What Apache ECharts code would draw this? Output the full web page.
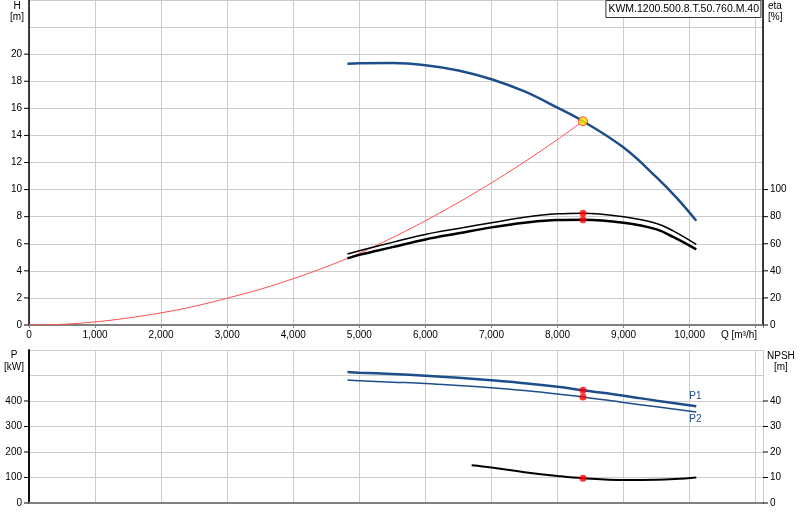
<!DOCTYPE html>
<html>
<head>
<meta charset="utf-8">
<script src="https://cdn.jsdelivr.net/npm/echarts@6/dist/echarts.min.js"></script>
<style>
  html, body { margin: 0; padding: 0; background: #fff; }
  #chart { width: 800px; height: 520px; }
</style>
</head>
<body>
<div id="chart"></div>
<script>
var FONT = 'Liberation Sans, Arial, sans-serif';

// pump curve H(Q)
var flowH = [4820, 5000, 5500, 6000, 6500, 7000, 7500, 8000, 8385, 9000, 9500, 9800, 10100];
var head = [19.3, 19.33, 19.35, 19.19, 18.8, 18.15, 17.25, 16.05, 15.05, 13.1, 10.9, 9.4, 7.7];

// system curve
var flowSys = [0, 500, 1000, 1500, 2000, 2500, 3000, 3500, 4000, 4500, 5000, 5500, 6000, 6500, 7000, 7500, 8000, 8385];
var headSys = [0, 0.05, 0.23, 0.52, 0.9, 1.38, 1.98, 2.64, 3.42, 4.3, 5.3, 6.45, 7.7, 9.05, 10.5, 12.05, 13.7, 15.05];

// efficiency
var flowEta = [4820, 5000, 5500, 6000, 6500, 7000, 7500, 8000, 8385, 9000, 9500, 9750, 10100];
var etaUpper = [52.4, 54.8, 61.0, 66.9, 71.3, 75.5, 79.5, 82.1, 82.6, 79.9, 75.0, 69.5, 59.5];
var etaLower = [49.2, 51.8, 57.5, 63.2, 67.7, 72.1, 75.5, 77.5, 77.7, 75.5, 70.6, 65.0, 55.8];

// power
var flowP = [4820, 5000, 5500, 6000, 6500, 7000, 7500, 8000, 8385, 9000, 9500, 10100];
var powerP1 = [514, 511, 506, 499, 491, 481, 470, 456, 442, 421, 401, 379];
var powerP2 = [482, 479, 474, 469, 461, 452, 441, 427, 416, 394, 377, 357];

// NPSH
var flowN = [6700, 7000, 7500, 8000, 8385, 9000, 9500, 10100];
var npsh = [14.8, 13.9, 12.1, 10.6, 9.7, 9.0, 9.1, 10.0];

// duty point
var dutyQ = 8385;
var dutyH = 15.05;
var dutyEta = [82.5, 77.7];
var dutyP = [442, 416];
var dutyNpsh = 9.7;

var pumpName = 'KWM.1200.500.8.T.50.760.M.40';

var blue = '#1d4e89';

function pairs(xs, ys) {
    return xs.map(function(x, i) { return [x, ys[i]]; });
}

function thousands(v) {
    return String(v).replace(/\B(?=(\d{3})+(?!\d))/g, ',');
}

function leftLabel(limit) {
    return {
        margin: 0,
        formatter: function(v) {
            return v <= limit ? '{v|' + v + '}{t|}' : '';
        },
        rich: {
            v: { fontSize: 10, color: '#000', fontFamily: FONT, padding: [0, 2, 0, 0] },
            t: { width: 5, height: 1, backgroundColor: '#000' }
        }
    };
}

function rightLabel(limit) {
    return {
        margin: 0,
        formatter: function(v) {
            return v <= limit ? '{t|}{v|' + v + '}' : '';
        },
        rich: {
            v: { fontSize: 10, color: '#000', fontFamily: FONT, padding: [0, 0, 0, 2] },
            t: { width: 5, height: 1, backgroundColor: '#000' }
        }
    };
}

var gridLine = { show: true, lineStyle: { color: '#cccccc', width: 1 } };
var blackLine = { show: true, lineStyle: { color: '#000', width: 1.5 } };
var greyLine = { show: true, lineStyle: { color: '#808080', width: 2 } };

function unitText(text, x, y, align) {
    return {
        type: 'text',
        x: x,
        y: y,
        style: {
            text: text,
            fill: '#000',
            font: '10px ' + FONT,
            align: align || 'center',
            verticalAlign: 'middle'
        }
    };
}

function curve(name, xi, yi, xs, ys, color, width, extra) {
    var s = {
        name: name, type: 'line', xAxisIndex: xi, yAxisIndex: yi,
        data: pairs(xs, ys), showSymbol: false, smooth: 0.4,
        lineStyle: { color: color, width: width }, z: 3
    };
    for (var k in extra) s[k] = extra[k];
    return s;
}

function dots(name, xi, yi, values, size, style) {
    return {
        name: name, type: 'scatter', xAxisIndex: xi, yAxisIndex: yi,
        data: values.map(function(v) { return [dutyQ, v]; }),
        symbolSize: size, itemStyle: style, z: 10
    };
}

var option = {
    animation: false,
    backgroundColor: '#fff',
    title: {
        text: pumpName,
        right: 39,
        top: 0,
        padding: [4, 2, 3, 3],
        borderColor: '#333',
        borderWidth: 1,
        backgroundColor: '#fff',
        textStyle: { fontSize: 10.5, fontWeight: 'normal', color: '#000', fontFamily: FONT }
    },
    grid: [
        { left: 29, right: 37, top: 0, height: 325, containLabel: false, outerBoundsMode: 'none' },
        { left: 29, right: 37, top: 350, height: 153, containLabel: false, outerBoundsMode: 'none' }
    ],
    xAxis: [
        {
            type: 'value', gridIndex: 0, min: 0, max: 11110, interval: 1000,
            axisLine: greyLine,
            axisTick: { show: true, length: 3, lineStyle: { color: '#808080' } },
            axisLabel: {
                margin: 5, fontSize: 10, color: '#000', fontFamily: FONT,
                formatter: function(v) { return v > 10000 ? '' : thousands(v); }
            },
            splitLine: gridLine
        },
        {
            type: 'value', gridIndex: 1, min: 0, max: 11110, interval: 1000,
            axisLine: greyLine,
            axisTick: { show: false },
            axisLabel: { show: false },
            splitLine: gridLine
        },
        {
            type: 'value', gridIndex: 1, position: 'top', min: 0, max: 11110, interval: 1000,
            axisLine: greyLine,
            axisTick: { show: false },
            axisLabel: { show: false },
            splitLine: { show: false }
        }
    ],
    yAxis: [
        {
            type: 'value', gridIndex: 0, position: 'left', min: 0, max: 24, interval: 2,
            axisLine: blackLine, axisTick: { show: false },
            axisLabel: leftLabel(20),
            splitLine: gridLine
        },
        {
            type: 'value', gridIndex: 0, position: 'right', min: 0, max: 240, interval: 20,
            axisLine: blackLine, axisTick: { show: false },
            axisLabel: rightLabel(100),
            splitLine: { show: false }
        },
        {
            type: 'value', gridIndex: 1, position: 'left', min: 0, max: 600, interval: 100,
            axisLine: blackLine, axisTick: { show: false },
            axisLabel: leftLabel(400),
            splitLine: gridLine
        },
        {
            type: 'value', gridIndex: 1, position: 'right', min: 0, max: 60, interval: 10,
            axisLine: blackLine, axisTick: { show: false },
            axisLabel: rightLabel(40),
            splitLine: { show: false }
        }
    ],
    graphic: [
        unitText('H', 17, 6),
        unitText('[m]', 17, 17),
        unitText('eta', 768, 6, 'left'),
        unitText('[%]', 768, 17, 'left'),
        unitText('P', 14, 355),
        unitText('[kW]', 14, 367),
        unitText('NPSH', 767, 356, 'left'),
        unitText('[m]', 774, 367, 'left'),
        unitText('Q [m\u00b3/h]', 757, 335, 'right')
    ],
    series: [
        curve('H', 0, 0, flowH, head, blue, 2.5),
        curve('System', 0, 0, flowSys, headSys, '#ff4d4d', 1, { z: 2 }),
        curve('eta upper', 0, 1, flowEta, etaUpper, '#000', 1.5),
        curve('eta lower', 0, 1, flowEta, etaLower, '#000', 2.5),
        dots('duty H', 0, 0, [dutyH], 9, { color: '#ffe400', borderColor: '#ff2020', borderWidth: 1 }),
        dots('duty eta', 0, 1, dutyEta, 7, { color: '#ff0000' }),
        curve('P1', 1, 2, flowP, powerP1, blue, 2.5, {
            endLabel: { show: true, formatter: 'P1', color: blue, fontSize: 10, fontFamily: FONT, distance: 0, offset: [-7, -10] }
        }),
        curve('P2', 1, 2, flowP, powerP2, blue, 1.5, {
            endLabel: { show: true, formatter: 'P2', color: blue, fontSize: 10, fontFamily: FONT, distance: 0, offset: [-7, 7] }
        }),
        curve('NPSH', 1, 3, flowN, npsh, '#000', 2),
        dots('duty P', 1, 2, dutyP, 7, { color: '#ff0000' }),
        dots('duty NPSH', 1, 3, [dutyNpsh], 7, { color: '#ff0000' })
    ]
};

window.onload = function() {
    var chart = echarts.init(document.getElementById('chart'));
    chart.setOption(option);
};
</script>
</body>
</html>
